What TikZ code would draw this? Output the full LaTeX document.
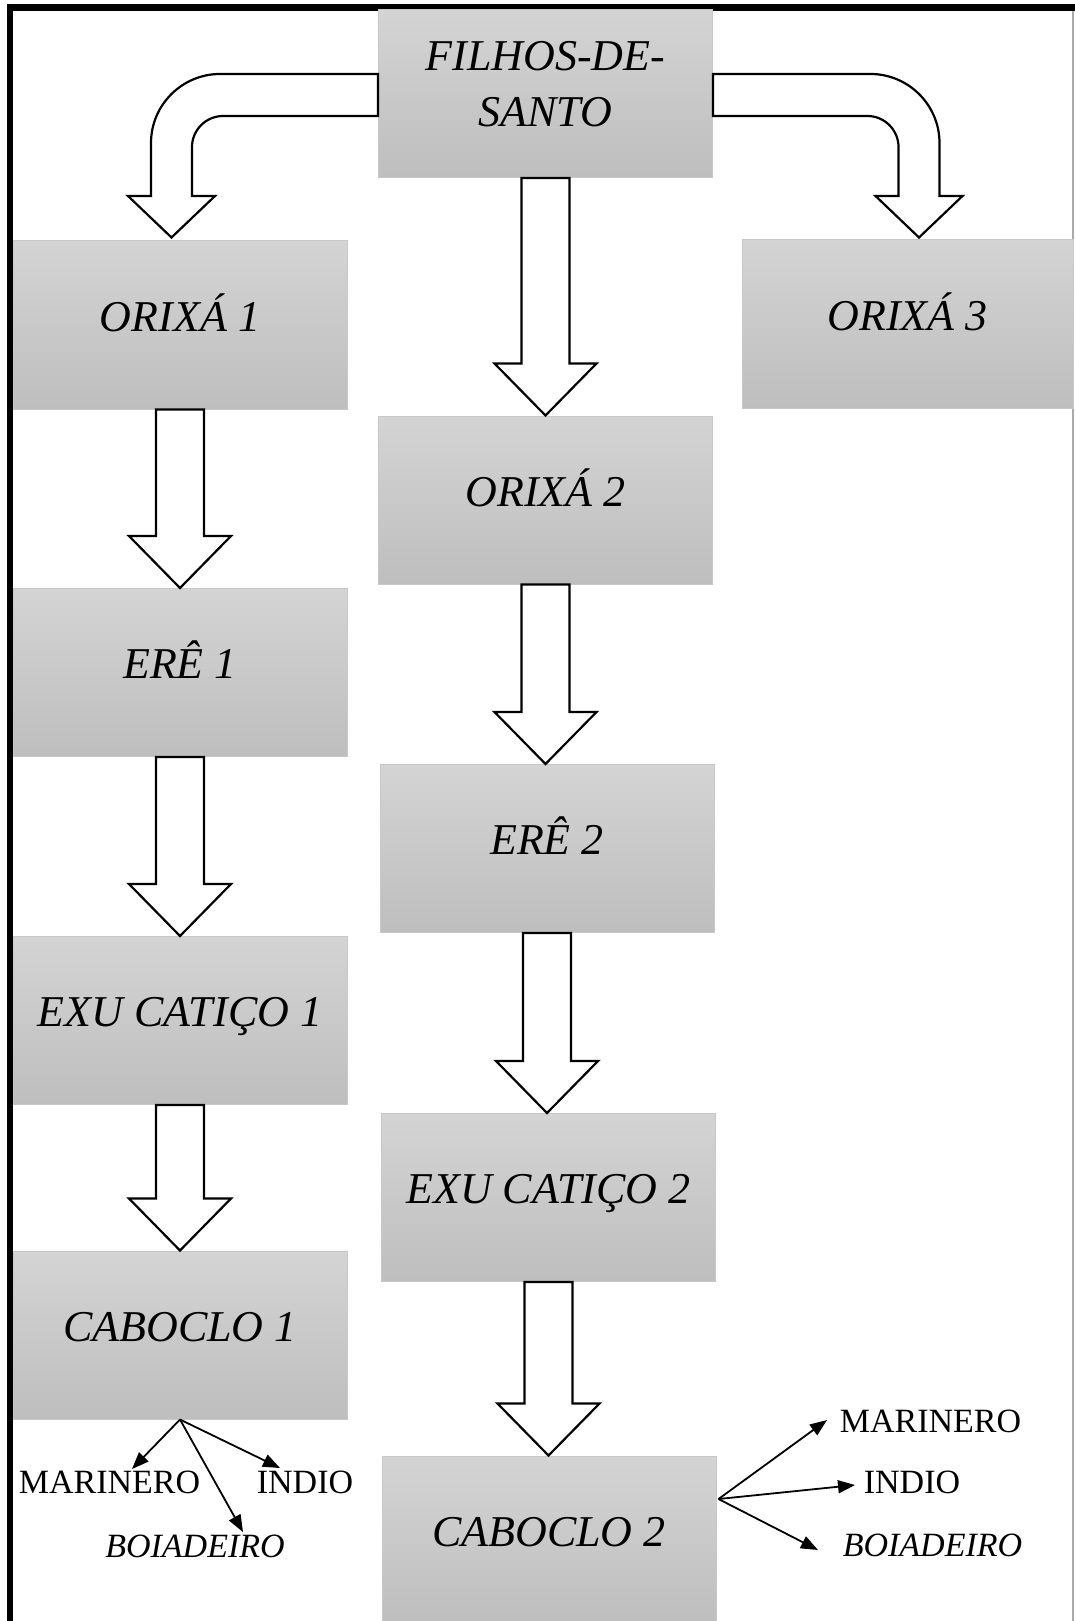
\documentclass[tikz,border=0pt]{standalone}
\usepackage{fontspec}
\setmainfont{Liberation Serif}
\usetikzlibrary{calc,arrows.meta}
\definecolor{boxtop}{RGB}{212,212,212}
\definecolor{boxbot}{RGB}{190,190,190}
\definecolor{boxedge}{RGB}{200,200,200}
\definecolor{frameedge}{RGB}{170,170,170}

% hollow block arrow pointing down from the bottom of #1 to the top of #2
\newcommand\downblock[2]{%
  \draw[blockarrow]
    ($(#1.south)+(-24,0)$)
    -- ($(#1.south |- #2.north)+(-24,-52)$)
    -- ($(#1.south |- #2.north)+(-51,-52)$)
    -- (#1.south |- #2.north)
    -- ($(#1.south |- #2.north)+(51,-52)$)
    -- ($(#1.south |- #2.north)+(24,-52)$)
    -- ($(#1.south)+(24,0)$) -- cycle;}

\begin{document}
\begin{tikzpicture}[x=1pt,y=-1pt,
  box/.style={rectangle, top color=boxtop, bottom color=boxbot, draw=boxedge,
    line width=1pt, minimum width=334pt, minimum height=168pt, inner sep=0pt,
    font=\fontsize{44}{56}\selectfont\itshape, text height=30pt, text depth=18pt},
  boxtext/.style={inner sep=0pt, align=center, font=\fontsize{44}{56}\selectfont\itshape},
  blockarrow/.style={draw=black, fill=white, line width=2.2pt, line join=miter},
  leaf/.style={inner sep=0pt, anchor=base, font=\fontsize{34}{40}\selectfont},
  leafit/.style={leaf, font=\fontsize{34}{40}\selectfont\itshape},
  thin arrow/.style={line width=1.8pt, -{Triangle[length=17pt,width=13pt]}}
]
\useasboundingbox (0,0) rectangle (1075,1621);
\clip (0,0) rectangle (1075,1621);
\fill[white] (0,0) rectangle (1075,1621);

% frame
\fill[black] (7,4) rectangle (1075,11);
\fill[black] (7,4) rectangle (13,1621);
\draw[frameedge, line width=1.5pt] (1073,11) -- (1073,1621);

% boxes
\node[box] (filhos) at (545.5,93.5) {};
\node[boxtext, anchor=north] (filhostxt) at (545.5,41) {FILHOS-DE-\\SANTO};
\node[box] (ori1) at (180,325) {ORIXÁ 1};
\node[box, minimum width=331pt] (ori3) at (907.5,324) {ORIXÁ 3};
\node[box] (ori2) at (545.5,500) {ORIXÁ 2};
\node[box] (ere1) at (180,672.5) {ERÊ 1};
\node[box] (ere2) at (547,848.5) {ERÊ 2};
\node[box] (exu1) at (180,1020.5) {EXU CATIÇO 1};
\node[box] (exu2) at (548.5,1197.5) {EXU CATIÇO 2};
\node[box] (cab1) at (180,1335) {CABOCLO 1};
\node[box] (cab2) at (549,1540) {CABOCLO 2};

% bent block arrows leaving FILHOS-DE-SANTO
\draw[blockarrow]
  ($(filhos.west)+(0,-19.5)$) -- (220,74)
  .. controls (182,74) and (151,105) .. (151,143)
  -- (151,196) -- (128,196) -- ($(ori1.north)+(-8.5,-3)$) -- (215,196) -- (192,196)
  -- (192,147) .. controls (192,130) and (206,116) .. (223,116)
  -- ($(filhos.west)+(0,22.5)$) -- cycle;
\draw[blockarrow]
  ($(filhos.east)+(0,-19.5)$) -- (870.5,74)
  .. controls (908.5,74) and (939.5,105) .. (939.5,143)
  -- (939.5,196) -- (962.5,196) -- ($(ori3.north)+(11.5,-2)$) -- (875.5,196) -- (898.5,196)
  -- (898.5,147) .. controls (898.5,130) and (884.5,116) .. (867.5,116)
  -- ($(filhos.east)+(0,22.5)$) -- cycle;

% straight block arrows
\downblock{filhos}{ori2}
\downblock{ori2}{ere2}
\downblock{ere2}{exu2}
\downblock{exu2}{cab2}
\downblock{ori1}{ere1}
\downblock{ere1}{exu1}
\downblock{exu1}{cab1}

% branches of CABOCLO 1
\node[leaf] (mar1) at (109.5,1493) {MARINERO};
\node[leaf] (ind1) at (305,1493) {INDIO};
\node[leafit] (boi1) at (195,1557) {BOIADEIRO};
\coordinate (mar1tip) at (132,1469);
\coordinate (ind1tip) at (280,1468);
\coordinate (boi1tip) at (243,1532);
\draw[thin arrow] (cab1.south) -- (mar1tip);
\draw[thin arrow] (cab1.south) -- (ind1tip);
\draw[thin arrow] (cab1.south) -- (boi1tip);

% branches of CABOCLO 2
\node[leaf] (mar2) at (930.5,1432) {MARINERO};
\node[leaf] (ind2) at (912,1493) {INDIO};
\node[leafit] (boi2) at (932.5,1556) {BOIADEIRO};
\coordinate (mar2tip) at (827,1420);
\coordinate (ind2tip) at (855,1485);
\coordinate (boi2tip) at (818,1550);
\coordinate (cab2out) at ($(cab2.east)+(2,-41)$);
\draw[thin arrow] (cab2out) -- (mar2tip);
\draw[thin arrow] (cab2out) -- (ind2tip);
\draw[thin arrow] (cab2out) -- (boi2tip);
\end{tikzpicture}
\end{document}
